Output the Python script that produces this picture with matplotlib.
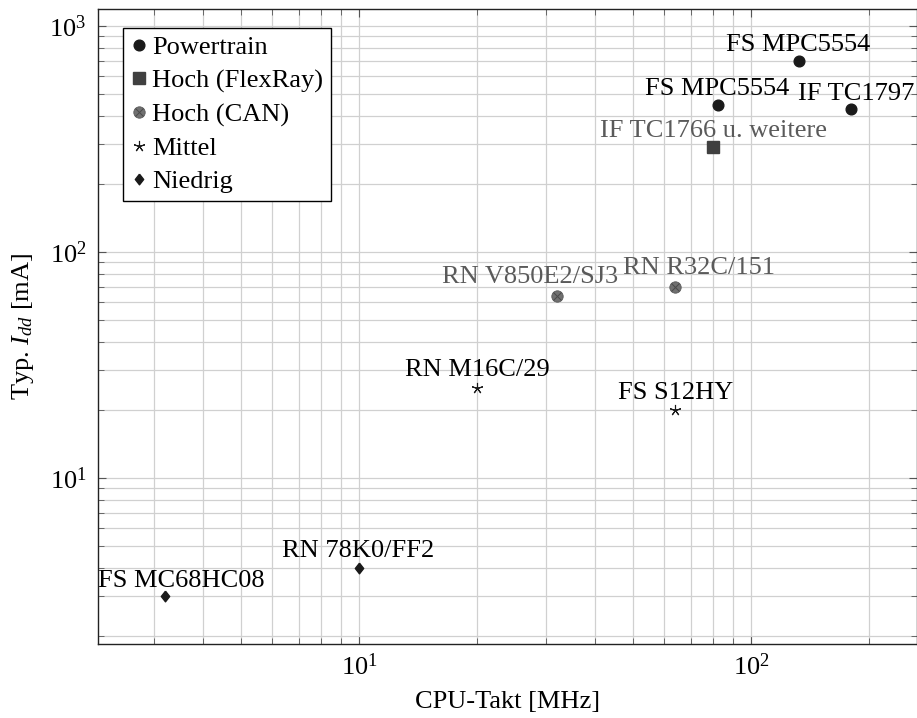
import numpy as np
import matplotlib.pyplot as plt
from matplotlib.ticker import NullFormatter
from matplotlib.legend_handler import HandlerTuple

plt.rcParams['font.family'] = ['Liberation Serif', 'DejaVu Serif']
plt.rcParams['mathtext.fontset'] = 'custom'
plt.rcParams['mathtext.rm'] = 'Liberation Serif'
plt.rcParams['mathtext.it'] = 'Liberation Serif:italic'

# Daten (CPU-Takt in MHz, typ. Stromaufnahme in mA)
powertrain_mhz = [132, 82, 180]
powertrain_ma = [700, 445, 430]
powertrain_names = ['FS MPC5554', 'FS MPC5554', 'IF TC1797']

flexray_mhz = [80]
flexray_ma = [290]
flexray_names = ['IF TC1766 u. weitere']

can_mhz = [32, 64]
can_ma = [64, 70]
can_names = ['RN V850E2/SJ3', 'RN R32C/151']

mittel_mhz = [20, 64]
mittel_ma = [25, 20]
mittel_names = ['RN M16C/29', 'FS S12HY']

niedrig_mhz = [3.2, 10]
niedrig_ma = [3, 4]
niedrig_names = ['FS MC68HC08', 'RN 78K0/FF2']

legend_labels = ['Powertrain', 'Hoch (FlexRay)', 'Hoch (CAN)', 'Mittel', 'Niedrig']

FS = 19
dark = '#1a1a1a'
grey_txt = '#5a5a5a'
diamond = [(0, 1), (0.78, 0), (0, -1), (-0.78, 0), (0, 1)]

fig = plt.figure(figsize=(9.17, 7.18), dpi=100)
ax = fig.add_axes([0.1065, 0.1031, 0.8930, 0.8848])
ax.set_xscale('log')
ax.set_yscale('log')

h1, = ax.plot(powertrain_mhz, powertrain_ma, 'o', color=dark, ms=7.7, ls='none', zorder=3)
h2, = ax.plot(flexray_mhz, flexray_ma, 's', color='#404040', ms=8.3, ls='none', zorder=3)
h3a, = ax.plot(can_mhz, can_ma, 'o', color='#707070', mec='#5a5a5a', mew=0.6, ms=8.2, ls='none', zorder=3)
h3b, = ax.plot(can_mhz, can_ma, 'x', color='#4a4a4a', mew=0.7, ms=5.2, ls='none', zorder=4)
h4, = ax.plot(mittel_mhz, mittel_ma, marker=(5, 2, 0), color=dark, ms=8, mew=0.8, ls='none', zorder=3)
h5, = ax.plot(niedrig_mhz, niedrig_ma, marker=diamond, color=dark, ms=7.7, ls='none', zorder=3)

# Beschriftungen über den Punkten (Versatz in Pixeln)
groups = [
    (powertrain_mhz, powertrain_ma, powertrain_names, 'black', [(0, 10), (0, 10), (5, 9)]),
    (flexray_mhz, flexray_ma, flexray_names, grey_txt, [(0, 10)]),
    (can_mhz, can_ma, can_names, grey_txt, [(-27, 13), (24, 13)]),
    (mittel_mhz, mittel_ma, mittel_names, 'black', [(0, 12), (0, 11)]),
    (niedrig_mhz, niedrig_ma, niedrig_names, 'black', [(16, 9), (-1, 11)]),
]
for xs, ys, names, col, offs in groups:
    for x, y, name, off in zip(xs, ys, names, offs):
        ax.annotate(name, (x, y), xytext=off, textcoords='offset pixels',
                    ha='center', va='baseline', fontsize=FS, color=col, zorder=5)

ax.set_xlim(2.15, 264)
ax.set_ylim(1.84, 1193)

ax.grid(True, which='both', color='#d0d0d0', lw=0.9)
ax.set_axisbelow(True)
ax.tick_params(which='both', direction='in', top=True, right=True, color='#555555', labelsize=FS)
ax.tick_params(which='major', length=6)
ax.tick_params(which='minor', length=4)
ax.tick_params(axis='x', pad=7)
ax.tick_params(axis='y', pad=8)
ax.xaxis.set_minor_formatter(NullFormatter())
ax.yaxis.set_minor_formatter(NullFormatter())
for sp in ax.spines.values():
    sp.set_color('#222222')
    sp.set_linewidth(1.0)

ax.set_xlabel('CPU-Takt [MHz]', fontsize=FS, labelpad=8)
ax.set_ylabel('Typ. $I_{dd}$ [mA]', fontsize=FS, labelpad=10)

leg = ax.legend([h1, h2, (h3a, h3b), h4, h5], legend_labels,
                handler_map={tuple: HandlerTuple(ndivide=1, pad=0)},
                loc='upper left', bbox_to_anchor=(0.031, 0.9696), borderaxespad=0,
                fontsize=FS, fancybox=False, framealpha=1, edgecolor='black',
                handlelength=0.6, handletextpad=0.2, labelspacing=0.37, borderpad=0.3,
                numpoints=1)
leg.get_frame().set_linewidth(1.0)
leg.set_zorder(10)

fig.savefig('out.png', dpi=100)
